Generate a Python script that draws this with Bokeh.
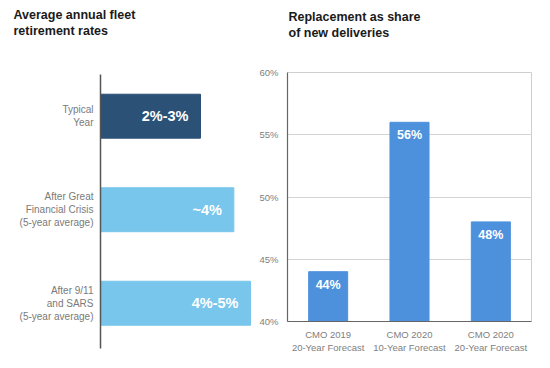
from bokeh.plotting import figure
from bokeh.models import Range1d, FactorRange, FixedTicker, PrintfTickFormatter, Title, ColumnDataSource
from bokeh.layouts import row, column
from bokeh.core.properties import value
from bokeh.embed import file_html
from bokeh.resources import INLINE

# ---- data ----
left_title = "Average annual fleet\nretirement rates"
left_categories = ["Typical\nYear",
                   "After Great\nFinancial Crisis\n(5-year average)",
                   "After 9/11\nand SARS\n(5-year average)"]
left_values = [3.0, 4.0, 4.5]
left_labels = ["2%-3%", "~4%", "4%-5%"]
left_colors = ["#2c5177", "#78c6eb", "#78c6eb"]

right_title = "Replacement as share\nof new deliveries"
right_categories = ["CMO 2019\n20-Year Forecast",
                    "CMO 2020\n10-Year Forecast",
                    "CMO 2020\n20-Year Forecast"]
right_values = [44, 56, 48]
right_labels = ["44%", "56%", "48%"]
right_ticks = [40, 45, 50, 55, 60]

FONT = "Liberation Sans"
H = 360


def add_title(p, text, offset, gap):
    # an invisible spacer keeps the heading away from the plot frame
    p.add_layout(Title(text=" ", text_font_size="1px", standoff=gap, text_color="white"), "above")
    p.add_layout(Title(text=text, align="left", offset=offset, standoff=0, vertical_align="top",
                       text_font_style="bold", text_font_size="12.5px", text_line_height=1.15,
                       text_font=FONT, text_color="#1a1a1a"), "above")


# ---- left chart ----
pos = list(range(len(left_categories)))
src_l = ColumnDataSource(dict(y=pos, right=left_values, label=left_labels, color=left_colors))
pl = figure(width=252, height=H, x_range=Range1d(0, 4.56), y_range=Range1d(2.484, -0.446),
            x_axis_location=None, y_axis_location="left",
            output_backend="svg", toolbar_location=None,
            min_border_left=100, min_border_right=0, min_border_top=74, min_border_bottom=12)
pl.outline_line_color = None
pl.grid.visible = False
pl.hbar(y="y", left=0, right="right", height=0.47, color="color", source=src_l)
pl.text(x="right", y="y", text="label", x_offset=-12, text_align="right", text_baseline="middle",
        text_color="white", text_font_style="bold", text_font_size="14.5px",
        text_font=value(FONT), source=src_l)
ya = pl.yaxis[0]
ya.ticker = FixedTicker(ticks=pos)
ya.major_label_overrides = {i: c for i, c in enumerate(left_categories)}
ya.major_tick_out = 0
ya.major_tick_in = 0
ya.minor_tick_out = 0
ya.minor_tick_in = 0
ya.axis_line_color = "#555555"
ya.axis_line_width = 1.5
ya.major_label_standoff = 7
ya.major_label_text_font_size = "10px"
ya.major_label_text_color = "#7a7a7a"
ya.major_label_text_font = FONT
add_title(pl, left_title, -87, 32)

# ---- right chart ----
src_r = ColumnDataSource(dict(x=right_categories, top=right_values, label=right_labels))
pr = figure(width=290, height=H, x_range=FactorRange(*right_categories),
            y_range=Range1d(right_ticks[0], right_ticks[-1]),
            output_backend="svg", toolbar_location=None,
            min_border_left=35, min_border_right=11, min_border_top=72, min_border_bottom=39)
pr.vbar(x="x", bottom=right_ticks[0], top="top", width=0.48, color="#4d91dc", source=src_r)
pr.text(x="x", y="top", text="label", y_offset=6, text_align="center", text_baseline="top",
        text_color="white", text_font_style="bold", text_font_size="12.5px",
        text_font=value(FONT), source=src_r)
pr.xgrid.visible = False
pr.ygrid.ticker = FixedTicker(ticks=right_ticks)
pr.ygrid.grid_line_color = "#d4d4d4"
pr.outline_line_color = "#cfcfcf"
yr = pr.yaxis[0]
yr.ticker = FixedTicker(ticks=right_ticks)
yr.formatter = PrintfTickFormatter(format="%d%%")
xr = pr.xaxis[0]
for ax in (yr, xr):
    ax.major_tick_out = 0
    ax.major_tick_in = 0
    ax.minor_tick_out = 0
    ax.minor_tick_in = 0
    ax.axis_line_color = "#666666"
    ax.axis_line_width = 1.2
    ax.major_label_text_font_size = "9.5px"
    ax.major_label_text_color = "#808080"
    ax.major_label_text_font = FONT
yr.major_label_standoff = 9
xr.major_label_standoff = 7
add_title(pr, right_title, 1, 28)

layout = row(column(pl), column(pr))
open("out.html", "w").write(file_html(layout, INLINE))
